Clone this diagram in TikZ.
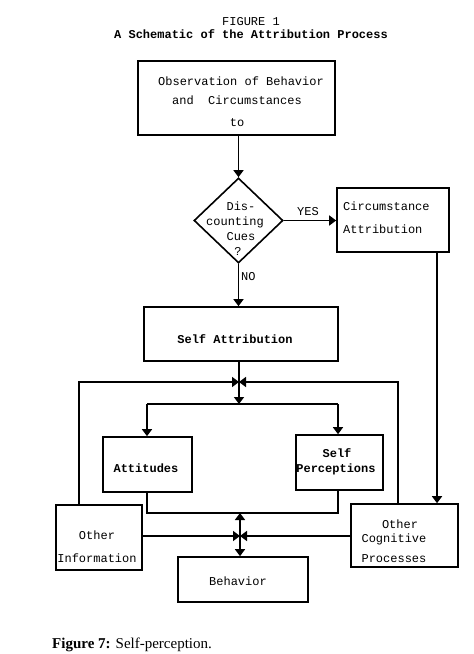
\documentclass[tikz,border=0pt]{standalone}
\usepackage{fontspec}
\newfontfamily\tw{Liberation Mono}
\newfontfamily\cf{Liberation Serif}
\usetikzlibrary{arrows.meta,shapes.geometric}
\begin{document}
\begin{tikzpicture}[x=1pt,y=-1pt,
  box/.style={draw, line width=1.6pt, inner sep=0pt, rectangle},
  txt/.style={font=\tw\fontsize{12}{15}\selectfont, inner sep=0pt, anchor=base},
  txtl/.style={txt, anchor=base west},
  conn/.style={line width=1.6pt},
  arr/.style={conn, -{Triangle[width=10pt,length=7pt]}}]
\useasboundingbox (0,0) rectangle (474,654);
% title
\node[txt] (t1) at (251,25) {FIGURE 1};
\node[txt, font=\tw\bfseries\fontsize{12}{15}\selectfont] (t2) at (251,38) {A Schematic of the Attribution Process};
% boxes
\node[box, minimum width=197pt, minimum height=74pt] (obs) at (236.5,98) {};
\node[box, minimum width=112pt, minimum height=64pt] (circ) at (393,220) {};
\node[box, minimum width=194pt, minimum height=54pt] (sa) at (241,334) {};
\node[box, minimum width=89pt, minimum height=55pt] (att) at (147.5,464.5) {};
\node[box, minimum width=87pt, minimum height=55pt] (sp) at (339.5,462.5) {};
\node[box, minimum width=86pt, minimum height=65pt] (oi) at (99,537.5) {};
\node[box, minimum width=107pt, minimum height=63pt] (ocp) at (404.5,535.5) {};
\node[box, minimum width=130pt, minimum height=45pt] (beh) at (243,579.5) {};
\node[draw, line width=1.6pt, diamond, inner sep=0pt, minimum width=89pt, minimum height=85pt] (dc) at (238.5,220.5) {};
% texts
\node[txt] (o1) at (241,85) {Observation of Behavior};
\node[txt] (o2) at (237,104) {and\ \ Circumstances};
\node[txt] (o3) at (237,126) {to};
\node[txt] (d1) at (241,210) {Dis-};
\node[txt] (d2) at (235,225) {counting};
\node[txt] (d3) at (241,240) {Cues};
\node[txt] (d4) at (238,255) {?};
\node[txt] (yes) at (308,215) {YES};
\node[txtl] (no) at (241,280) {NO};
\node[txtl] (c1) at (343,210) {Circumstance};
\node[txtl] (c2) at (343,233) {Attribution};
\node[txt, font=\tw\bfseries\fontsize{12}{15}\selectfont] (sat) at (235,343) {Self Attribution};
\node[txt, font=\tw\bfseries\fontsize{12}{15}\selectfont] (att1) at (146,472) {Attitudes};
\node[txt, font=\tw\bfseries\fontsize{12}{15}\selectfont] (sp1) at (337,457) {Self};
\node[txt, font=\tw\bfseries\fontsize{12}{15}\selectfont] (sp2) at (336,472) {Perceptions};
\node[txt] (oi1) at (97,539) {Other};
\node[txt] (oi2) at (97,562) {Information};
\node[txt] (oc1) at (400,528) {Other};
\node[txt] (oc2) at (394,542) {Cognitive};
\node[txt] (oc3) at (394,562) {Processes};
\node[txt] (beht) at (238,585) {Behavior};
\node[anchor=base west, inner sep=0pt, font=\cf\fontsize{15}{18}\selectfont] (cap) at (52,648) {\textbf{Figure 7:} Self-perception.};
% coordinates
\coordinate (cx) at (437,0);
\coordinate (jt) at (239,382);
\coordinate (br) at (239,404);
\coordinate (lx) at (79,382);
\coordinate (rx) at (398,382);
\coordinate (bl) at (147,404);
\coordinate (brr) at (338,404);
\coordinate (jb) at (240,536);
\coordinate (bt) at (240,513);
\coordinate (al) at (147,513);
\coordinate (ar) at (338,513);
% connectors
\draw[arr] (obs.south -| dc) -- (dc.north);
\draw[arr] (dc.east) -- (circ.west |- dc.east);
\draw[arr] (dc.south) -- (sa.north -| dc);
\draw[arr] (circ.south -| cx) -- (ocp.north -| cx);
\draw[conn] (sa.south -| jt) -- (jt);
\draw[arr] (jt) -- (br);
\draw[arr] (oi.north -| lx) -- (lx) -- (jt);
\draw[arr] (ocp.north -| rx) -- (rx) -- (jt);
\draw[conn] (bl) -- (brr);
\draw[arr] (bl) -- (att.north -| bl);
\draw[arr] (brr) -- (sp.north -| brr);
\draw[conn] (att.south -| al) -- (al) -- (ar) -- (sp.south -| ar);
\draw[arr] (oi.east |- jb) -- (jb);
\draw[arr] (ocp.west |- jb) -- (jb);
\draw[arr] (jb) -- (bt);
\draw[arr] (jb) -- (beh.north -| jb);
\end{tikzpicture}
\end{document}
